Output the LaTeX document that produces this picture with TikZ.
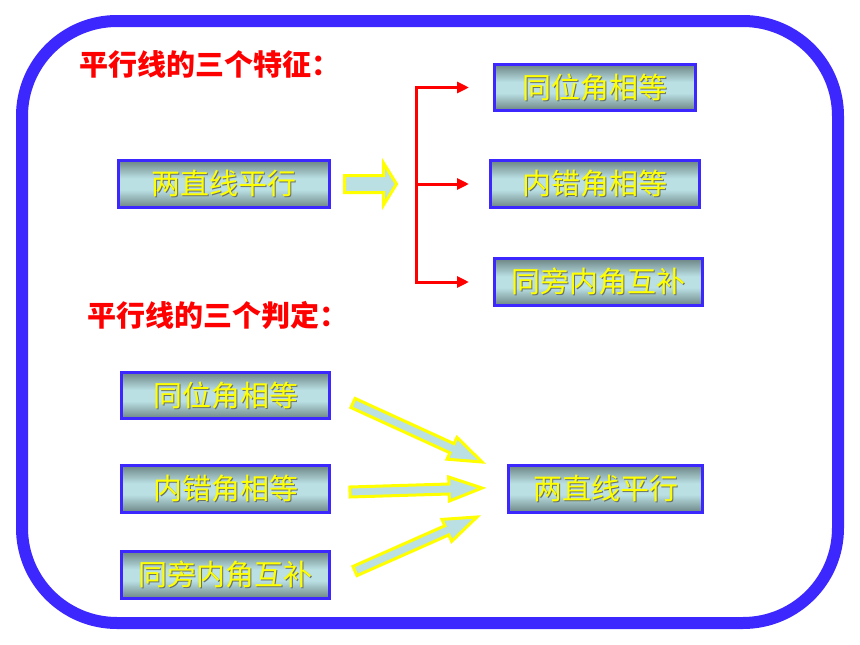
\documentclass[tikz,border=0pt]{standalone}
\usepackage{fontspec}
\setmainfont{Noto Sans CJK SC}
\usetikzlibrary{calc, arrows.meta}

\definecolor{frameblue}{RGB}{60,40,255}
\definecolor{boxlight}{RGB}{186,224,228}
\definecolor{boxdark}{RGB}{108,132,132}
\definecolor{textyellow}{RGB}{255,255,0}
\definecolor{shadowgray}{RGB}{105,115,110}

% grey edges, light middle
\pgfdeclareverticalshading{boxshade}{100bp}{color(0bp)=(boxdark); color(25bp)=(boxdark);
  color(44bp)=(boxlight); color(56bp)=(boxlight); color(75bp)=(boxdark); color(100bp)=(boxdark)}

% yellow text with a dark shadow
\newcommand{\embossed}[1]{\rlap{\hspace{1pt}\raisebox{-1pt}{\color{shadowgray}#1}}{\color{textyellow}#1}}

% hollow arrow: start, end, shaft half width, head half width, head length
\newcommand{\fatarrow}[5]{%
  \coordinate (fa-s) at #1;
  \coordinate (fa-e) at #2;
  \coordinate (fa-h) at ($(fa-e)!#5!(fa-s)$);
  \draw[fatarrow] ($(fa-s)!#3!90:(fa-e)$) -- ($(fa-h)!#3!-90:(fa-s)$)
    -- ($(fa-h)!#4!-90:(fa-s)$) -- (fa-e) -- ($(fa-h)!#4!90:(fa-s)$)
    -- ($(fa-h)!#3!90:(fa-s)$) -- ($(fa-s)!#3!-90:(fa-e)$) -- cycle;
}

\tikzset{
  frame/.style={draw=frameblue, line width=12pt, rounded corners=95pt},
  shadedbox/.style={draw=frameblue, line width=3pt, shading=boxshade, inner sep=0pt,
    minimum height=47pt, font=\fontsize{29}{29}\selectfont},
  redlabel/.style={anchor=west, text=red, inner sep=0pt, font=\fontsize{29}{29}\selectfont\bfseries},
  redarrow/.style={draw=red, line width=3pt, -{Triangle[length=12pt, width=11pt]}},
  fatarrow/.style={draw=textyellow, line width=3pt, fill=boxlight},
}

\begin{document}
\begin{tikzpicture}[x=1pt, y=-1pt]
    \useasboundingbox (0,0) rectangle (860,645);

    % Outer frame
    \draw[frame] (22,21) rectangle (838,623);

    % Headings
    \node[redlabel] (feat) at (79,64) {平行线的三个特征：};
    \node[redlabel] (judge) at (87,315) {平行线的三个判定：};

    % Properties
    \node[shadedbox, minimum width=211pt] (l1) at (224,184) {\embossed{两直线平行}};
    \node[shadedbox, minimum width=201pt, minimum height=46pt] (t1) at (595,87.5) {\embossed{同位角相等}};
    \node[shadedbox, minimum width=209pt] (t2) at (595,184) {\embossed{内错角相等}};
    \node[shadedbox, minimum width=208pt] (t3) at (598.5,282) {\embossed{同旁内角互补}};

    % Bracket
    \coordinate (fork) at (416.5,184);
    \coordinate (tips) at (469,184);
    \draw[redarrow] (fork |- t1) -- (tips |- t1);
    \draw[redarrow] (fork |- t2) -- (tips |- t2);
    \draw[redarrow] (fork |- t3) -- (tips |- t3);
    \draw[draw=red, line width=3pt] ([yshift=1.5pt]fork |- t1) -- ([yshift=-1.5pt]fork |- t3);

    \fatarrow{($(l1.east)+(13.5,0)$)}{($(fork)+(-20,0)$)}{8.5pt}{21pt}{13pt}

    % Criteria
    \node[shadedbox, minimum width=208pt, minimum height=46pt] (b1) at (225.5,395.5) {\embossed{同位角相等}};
    \node[shadedbox, minimum width=208pt] (b2) at (225.5,489) {\embossed{内错角相等}};
    \node[shadedbox, minimum width=208pt] (b3) at (225.5,575) {\embossed{同旁内角互补}};
    \node[shadedbox, minimum width=194pt] (r) at (605.5,489) {\embossed{两直线平行}};

    % Hollow arrows
    \fatarrow{($(b1.east)+(22,7.5)$)}{($(r.west)+(-25,-27)$)}{5pt}{12pt}{33pt}
    \fatarrow{($(b2.east)+(19,3)$)}{($(r.west)+(-25,-1)$)}{5pt}{12pt}{33pt}
    \fatarrow{($(b3.east)+(24,-4)$)}{($(r.west)+(-30,28)$)}{5pt}{12pt}{33pt}
\end{tikzpicture}
\end{document}
